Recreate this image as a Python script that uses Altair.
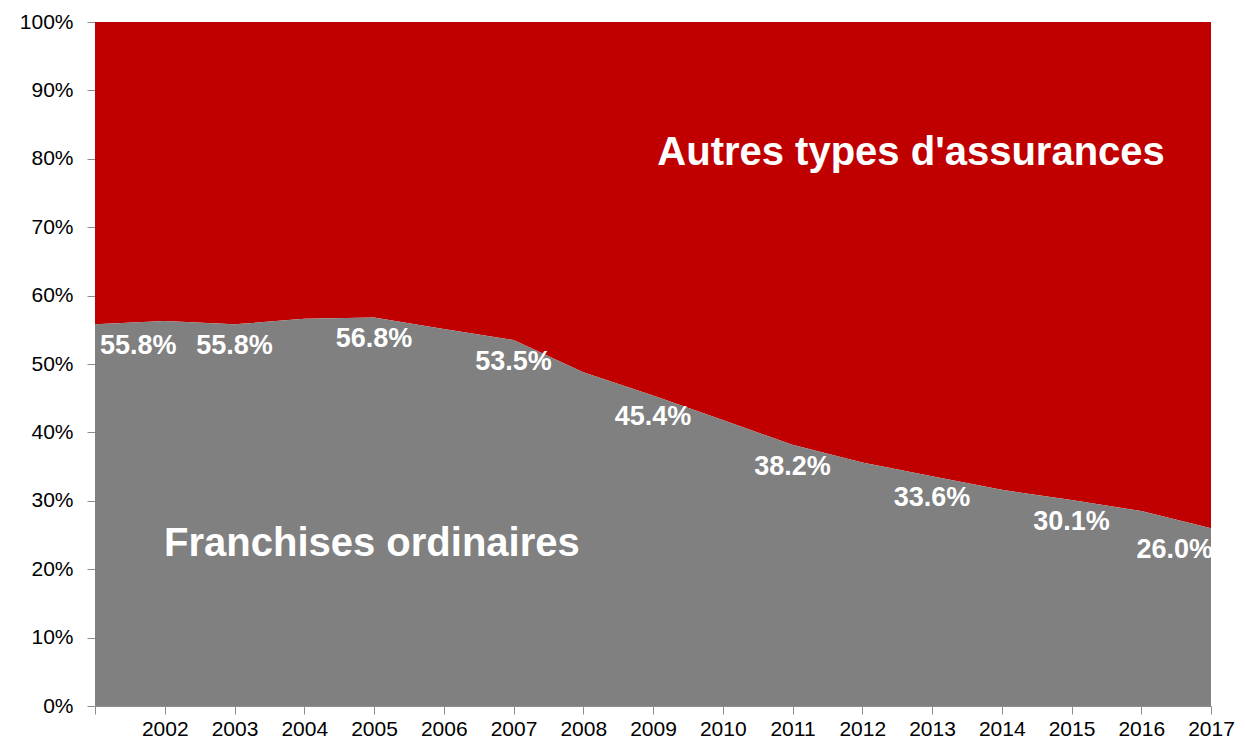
import altair as alt
import pandas as pd

# ---- data ----
years = list(range(2001, 2018))
franchise_share = [55.8, 56.3, 55.8, 56.6, 56.8, 55.1, 53.5, 48.8, 45.4,
                   41.8, 38.2, 35.6, 33.6, 31.6, 30.1, 28.5, 26.0]
label_years = [2001, 2003, 2005, 2007, 2009, 2011, 2013, 2015, 2017]
series_names = ["Franchises ordinaires", "Autres types d'assurances"]
series_label_year = [2004.97, 2012.70]
series_label_pct = [23.7, 80.8]
y_ticks = list(range(0, 101, 10))
total_pct = 100

FONT = "Liberation Sans"
RED = "#C00000"
GREY = "#808080"
AXIS_GREY = "#8c8c8c"

df = pd.DataFrame({"year": years, "share": franchise_share})
df["total"] = total_pct
df["label"] = df["share"].map(lambda v: f"{v:.1f}%")
lab = df[df["year"].isin(label_years)]
lab_first = lab[lab["year"] == label_years[0]]
lab_last = lab[lab["year"] == label_years[-1]]
lab_mid = lab[(lab["year"] != label_years[0]) & (lab["year"] != label_years[-1])]

ann = pd.DataFrame({"name": series_names, "year": series_label_year, "pct": series_label_pct})

x_scale = alt.Scale(domain=[years[0], years[-1]], nice=False, zero=False)
y_scale = alt.Scale(domain=[0, 100], nice=False)

x_enc = alt.X(
    "year:Q", scale=x_scale,
    axis=alt.Axis(
        values=years, format="d",
        labelExpr="datum.value == 2001 ? '' : datum.label",
        title=None, grid=False, tickSize=8, labelPadding=4,
        labelFontSize=21, labelColor="black", labelFont=FONT,
        domainColor=AXIS_GREY, tickColor=AXIS_GREY, labelFlush=False,
    ),
)
y_enc = alt.Y(
    "share:Q", scale=y_scale,
    axis=alt.Axis(
        values=y_ticks, labelExpr="datum.value + '%'",
        title=None, grid=False, tickSize=8, labelPadding=14,
        labelFontSize=21, labelColor="black", labelFont=FONT,
        domainColor=AXIS_GREY, tickColor=AXIS_GREY,
    ),
)

red = alt.Chart(df).mark_area(color=RED, opacity=1).encode(
    x=x_enc, y=y_enc, y2=alt.Y2("total:Q")
)
grey = alt.Chart(df).mark_area(color=GREY, opacity=1).encode(x=x_enc, y=y_enc)

text_style = dict(color="white", fontSize=27, fontWeight="bold", font=FONT,
                  baseline="middle", dy=22)

t_first = alt.Chart(lab_first).mark_text(align="left", dx=5, **text_style).encode(
    x=alt.X("year:Q", scale=x_scale), y=alt.Y("share:Q", scale=y_scale), text="label:N")
t_mid = alt.Chart(lab_mid).mark_text(align="center", **text_style).encode(
    x=alt.X("year:Q", scale=x_scale), y=alt.Y("share:Q", scale=y_scale), text="label:N")
t_last = alt.Chart(lab_last).mark_text(align="right", dx=2, **text_style).encode(
    x=alt.X("year:Q", scale=x_scale), y=alt.Y("share:Q", scale=y_scale), text="label:N")

t_ann = alt.Chart(ann).mark_text(
    color="white", fontSize=40, fontWeight="bold", font=FONT,
    align="center", baseline="middle"
).encode(
    x=alt.X("year:Q", scale=x_scale), y=alt.Y("pct:Q", scale=y_scale), text="name:N")

chart = alt.layer(red, grey, t_first, t_mid, t_last, t_ann).properties(
    width=1116, height=684,
    padding={"left": 11, "top": 3, "right": 0, "bottom": 0},
    background="white",
).configure_view(stroke=None)

chart.save("out.html", embed_options={"renderer": "svg", "actions": False})
